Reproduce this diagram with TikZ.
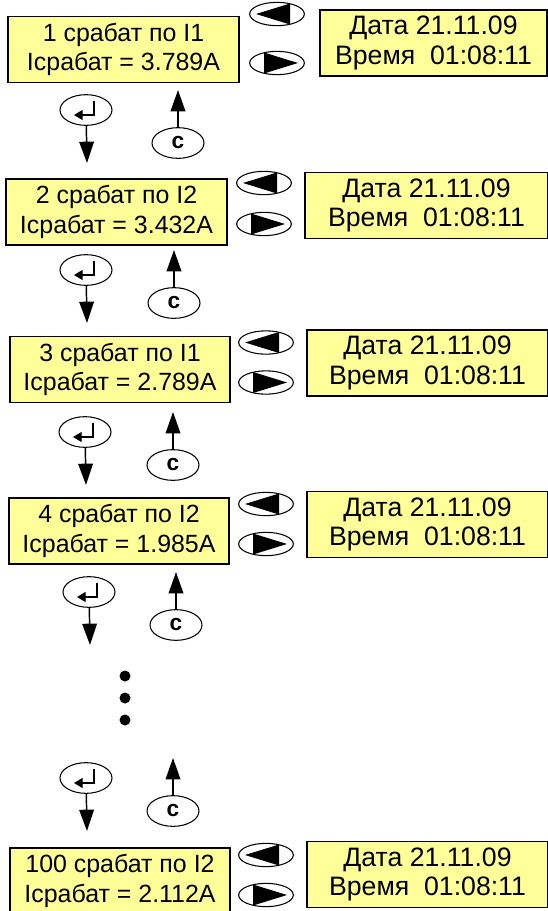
\documentclass[tikz,border=0pt]{standalone}
\usepackage{fontspec}
\setmainfont{Liberation Sans}
\usetikzlibrary{shapes.geometric, arrows.meta}
\definecolor{lcd}{RGB}{255,255,153}

\begin{document}
\begin{tikzpicture}[x=0.75pt, y=-0.75pt,
		scr/.style={draw, fill=lcd, line width=0.8pt, minimum height=49.5pt, inner sep=0pt, align=center, font=\fontsize{18.7}{22}\selectfont},
		key/.style={draw, ellipse, line width=0.8pt, minimum width=41pt, minimum height=17.5pt, inner sep=0pt},
		btn/.style={draw, ellipse, line width=0.8pt, minimum width=39pt, minimum height=23pt, inner sep=0pt, font=\fontsize{17}{17}\selectfont\bfseries},
		go/.style={line width=1.1pt, -{Triangle[length=16pt, width=11pt]}}]
			\useasboundingbox (0, 0) rectangle (548, 911);

			\foreach \n/\y/\x/\w/\kx/\ku/\kd/\dx/\dw/\txt/\val in {1/49.5/123.5/173.25pt/277/-35.5/13.5/433.5/170.25pt/1 срабат по I1/3.789,
				2/212/116.5/165.75pt/264/-29/12/426.5/182.25pt/2 срабат по I2/3.432,
				3/369.5/120/165pt/266/-27/13/427.5/180.75pt/3 срабат по I1/2.789,
				4/531/119/165pt/266/-27/13/427.5/180.75pt/4 срабат по I2/1.985,
				5/881/120/165pt/266/-26/14/427.5/180.75pt/100 срабат по I2/2.112}{
				\node[scr, minimum width=\w] (box\n) at (\x, \y) {\txt\\Iсрабат = \val A};
				\node[scr, minimum width=\dw, font=\fontsize{20}{22}\selectfont] (dt\n) at (\dx, \y-6.5) {Дата 21.11.09\\Время\ \ 01:08:11};
				\node[key] (kl\n) at (\kx, \y+\ku) {};
				\node[key] (kr\n) at (\kx, \y+\kd) {};
				\fill (kl\n.center) ++(-21, 0) -- ++(34, -10.5) -- ++(0, 21) -- cycle;
				\fill (kr\n.center) ++(21, 0) -- ++(-34, -10.5) -- ++(0, 21) -- cycle;
			}

			\foreach \i/\y/\x/\z in {1/110/86/178, 2/270/86/174, 3/432/85/173, 4/592/89/176, 5/778/86/173}{
				\node[btn] (ent\i) at (\x, \y) {};
				\draw[line width=1pt, -{Triangle[length=6.5pt, width=7.5pt]}] ([shift={(8, -9)}]ent\i.center) |- ([shift={(-12, 5)}]ent\i.center);
				\node[btn] (esc\i) at (\z, \y+33) {c};
				\coordinate (dn\i) at (\x+1, \y+53);
				\coordinate (up\i) at (\z, \y-20);
				\draw[go] (ent\i) -- (dn\i);
				\draw[go] (esc\i) -- (up\i);
			}

			\foreach \y in {676, 698, 720}
				\fill (125, \y) circle (5.5);
		\end{tikzpicture}
\end{document}
